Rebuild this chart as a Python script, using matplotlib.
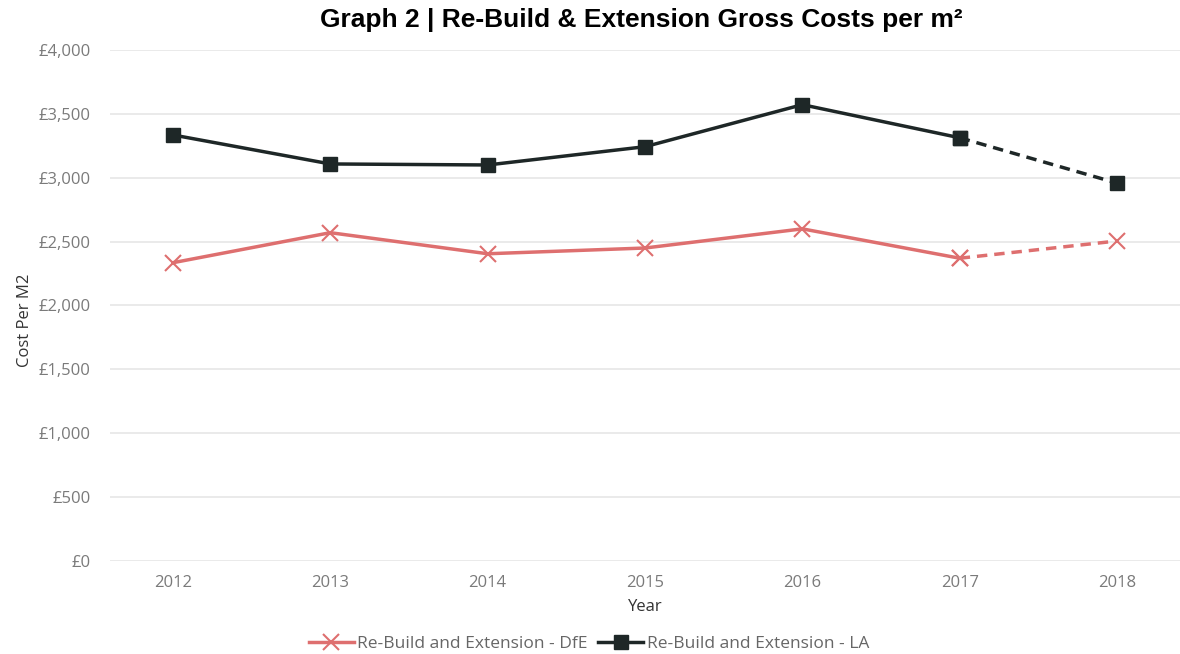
import matplotlib
matplotlib.use("Agg")
import matplotlib.pyplot as plt
from matplotlib.lines import Line2D
from matplotlib.ticker import FuncFormatter

years = ["2012", "2013", "2014", "2015", "2016", "2017", "2018"]
dfe = [2335, 2570, 2405, 2450, 2600, 2370, 2505]
la = [3335, 3108, 3100, 3243, 3572, 3313, 2958]
yticks = [0, 500, 1000, 1500, 2000, 2500, 3000, 3500, 4000]

dfe_color = "#DE6F6F"
la_color = "#1E2727"
tick_color = "#7A7A7A"

plt.rcParams['font.family'] = ['Open Sans', 'DejaVu Sans']

fig = plt.figure(figsize=(11.8, 6.54), dpi=100)
ax = fig.add_axes([110/1180, 93/654, 1 - 110/1180, (561-50)/654])

x = list(range(len(years)))
# solid part up to 2017, dashed 2017-2018
ax.plot(x[:6], dfe[:6], color=dfe_color, lw=2.5, marker='x', ms=11, mew=1.5, zorder=3)
ax.plot(x[5:], dfe[5:], color=dfe_color, lw=2.5, ls=(0, (3, 2)), marker='x', ms=11, mew=1.5, zorder=3)
ax.plot(x[:6], la[:6], color=la_color, lw=2.5, marker='s', ms=10, zorder=3)
ax.plot(x[5:], la[5:], color=la_color, lw=2.5, ls=(0, (3, 2)), marker='s', ms=10, zorder=3)

ax.set_xlim(-0.4, 6.4)
ax.set_ylim(0, 4000)
ax.set_xticks(x)
ax.set_xticklabels(years)
ax.set_yticks(yticks)
ax.yaxis.set_major_formatter(FuncFormatter(lambda v, p: f"£{int(v):,}"))
ax.grid(axis='y', color='#E6E6E6', lw=1.2)
ax.set_axisbelow(True)
for s in ax.spines.values():
    s.set_visible(False)
ax.tick_params(axis='both', length=0, colors=tick_color, labelsize=12)
ax.tick_params(axis='x', pad=10)
ax.tick_params(axis='y', pad=14)

ax.set_xlabel("Year", fontsize=12, color="#333333", labelpad=6)
fig.text(25/1180, 1 - 320/654, "Cost Per M2", rotation=90, ha='center', va='center',
         fontsize=12, color="#333333")

fig.suptitle("Graph 2 | Re-Build & Extension Gross Costs per m²", x=641/1180, y=1 - 20/654,
             va='center', fontsize=19, fontweight='bold', family=['Liberation Sans', 'DejaVu Sans'])

handles = [
    Line2D([], [], color=dfe_color, lw=2.5, marker='x', ms=11, mew=1.5),
    Line2D([], [], color=la_color, lw=2.5, marker='s', ms=10),
]
fig.legend(handles, ["Re-Build and Extension - DfE", "Re-Build and Extension - LA"],
           loc='center', bbox_to_anchor=(589/1180, 1 - 644/654), ncol=2, frameon=False,
           fontsize=12.5, labelcolor="#666666", handlelength=2.6, handletextpad=0.2,
           columnspacing=0.6)

fig.savefig("out.png", dpi=100, facecolor='white')
